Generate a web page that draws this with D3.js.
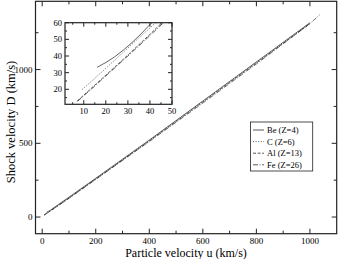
<!DOCTYPE html>
<html>
<head>
<meta charset="utf-8">
<script src="https://cdn.jsdelivr.net/npm/d3@7"></script>
<style>
  body { margin: 0; background: #fff; }
</style>
</head>
<body>
<svg id="chart" width="338" height="259" font-family="'Liberation Serif', 'DejaVu Serif', serif"></svg>
<script>
// materials, as listed in the legend
const labels = ["Be (Z=4)", "C (Z=6)", "Al (Z=13)", "Fe (Z=26)"];
const dashes = [null, "1,1.6", "3,1.6", "5,1.6,1,1.6"];

// particle velocity u (km/s) and shock velocity D (km/s)
const beU = [16, 20, 24, 28, 32, 36, 40.5, 50, 100, 200, 400, 600, 800, 1000];
const beD = [33.2, 36.1, 39.5, 43.6, 48.2, 53.3, 59.6, 71.5, 135, 263, 522, 787, 1052, 1318];
const cU = [9.2, 15, 20, 25, 30, 35, 42.5, 50, 100, 200, 400, 600, 800, 1000];
const cD = [19.8, 26.6, 32.6, 38.7, 44.8, 50.9, 59.8, 69, 131, 260, 519, 784, 1049, 1315];
const alU = [7, 10, 15, 20, 25, 30, 35, 40, 44.8, 50, 100, 200, 400, 600, 800, 1000];
const alD = [13, 16.5, 22.5, 28.5, 34.5, 40.6, 46.8, 53, 59.2, 65.5, 128, 257, 516, 780, 1044, 1310];
const feU = [7.2, 10, 15, 20, 25, 30, 35, 40, 45.6, 50, 100, 200, 400, 600, 800, 1000, 1038];
const feD = [12.8, 16.1, 22, 28, 34, 40, 46.1, 52.3, 59.3, 64.8, 127, 255, 512, 773, 1038, 1312, 1374];

// axis ticks
const xTicks = [0, 200, 400, 600, 800, 1000];
const yTicks = [0, 500, 1000];
const inXTicks = [10, 20, 30, 40, 50];
const inYTicks = [20, 30, 40, 50, 60];

const svg = d3.select("#chart");
const series = [[beU, beD], [cU, cD], [alU, alD], [feU, feD]]
  .map(([u, D]) => u.map((v, i) => ({ u: v, D: D[i] })));

// main frame
const x = d3.scaleLinear().domain([-25, 1100]).range([35.5, 336.7]);
const y = d3.scaleLinear().domain([-113, 1463]).range([233.7, 1.3]);

function frame(g, xs, ys, xMaj, xMin, yMaj, yMin, big, small) {
  const [x0, x1] = xs.range();
  const [y0, y1] = ys.range();
  xMin.forEach(v => {
    const len = xMaj.includes(v) ? big : small;
    g.append("line").attr("x1", xs(v)).attr("x2", xs(v)).attr("y1", y0).attr("y2", y0 - len).attr("stroke", "#222");
    g.append("line").attr("x1", xs(v)).attr("x2", xs(v)).attr("y1", y1).attr("y2", y1 + len).attr("stroke", "#222");
  });
  yMin.forEach(v => {
    const len = yMaj.includes(v) ? big : small;
    g.append("line").attr("y1", ys(v)).attr("y2", ys(v)).attr("x1", x0).attr("x2", x0 + len).attr("stroke", "#222");
    g.append("line").attr("y1", ys(v)).attr("y2", ys(v)).attr("x1", x1).attr("x2", x1 - len).attr("stroke", "#222");
  });
  g.append("rect").attr("x", x0).attr("y", y1).attr("width", x1 - x0).attr("height", y0 - y1)
    .attr("fill", "none").attr("stroke", "#222").attr("stroke-width", 1.2);
}

const line = (xs, ys) => d3.line().x(d => xs(d.u)).y(d => ys(d.D));

const main = svg.append("g");
series.forEach((s, i) => {
  main.append("path").attr("d", line(x, y)(s)).attr("fill", "none")
    .attr("stroke", "#111").attr("stroke-width", 0.6)
    .attr("stroke-dasharray", dashes[i]);
});
frame(main, x, y, xTicks, d3.range(0, 1100, 100), yTicks, d3.range(0, 1500, 250), 5, 3);

main.selectAll(".xl").data(xTicks).enter().append("text")
  .attr("x", d => x(d)).attr("y", 244).attr("text-anchor", "middle")
  .style("font-size", "9px").text(d => d);
main.selectAll(".yl").data(yTicks).enter().append("text")
  .attr("x", 32.5).attr("y", d => y(d) + 3).attr("text-anchor", "end")
  .style("font-size", "9px").text(d => d);

svg.append("text").attr("x", 186).attr("y", 256.5).attr("text-anchor", "middle")
  .style("font-size", "12px").text("Particle velocity u (km/s)");
svg.append("text").attr("transform", "translate(15,122) rotate(-90)").attr("text-anchor", "middle")
  .style("font-size", "12.5px").text("Shock velocity D (km/s)");

// inset
const ix = d3.scaleLinear().domain([1.5, 50]).range([65, 172]);
const iy = d3.scaleLinear().domain([11, 60]).range([104.3, 22.7]);
const inset = svg.append("g");
inset.append("rect").attr("x", 65).attr("y", 22.7).attr("width", 107).attr("height", 81.6).attr("fill", "#fff");
svg.append("clipPath").attr("id", "clip").append("rect")
  .attr("x", 65).attr("y", 22.7).attr("width", 107).attr("height", 81.6);
series.forEach((s, i) => {
  inset.append("path").attr("d", line(ix, iy)(s)).attr("fill", "none")
    .attr("clip-path", "url(#clip)")
    .attr("stroke", "#111").attr("stroke-width", 0.65)
    .attr("stroke-dasharray", dashes[i]);
});
frame(inset, ix, iy, inXTicks, d3.range(5, 51, 5), inYTicks, d3.range(15, 61, 5), 4, 2);
inset.selectAll(".ixl").data(inXTicks).enter().append("text")
  .attr("x", d => ix(d)).attr("y", 114).attr("text-anchor", "middle")
  .style("font-size", "8.5px").text(d => d);
inset.selectAll(".iyl").data(inYTicks).enter().append("text")
  .attr("x", 62).attr("y", d => iy(d) + 3).attr("text-anchor", "end")
  .style("font-size", "8.5px").text(d => d);

// legend
const leg = svg.append("g");
leg.append("rect").attr("x", 250.5).attr("y", 122).attr("width", 62.2).attr("height", 49)
  .attr("fill", "#fff").attr("stroke", "#222").attr("stroke-width", 0.8);
labels.forEach((t, i) => {
  const ly = 130 + i * 11.6;
  leg.append("line").attr("x1", 253).attr("x2", 264).attr("y1", ly).attr("y2", ly)
    .attr("stroke", "#111").attr("stroke-width", 0.7).attr("stroke-dasharray", dashes[i]);
  leg.append("text").attr("x", 267).attr("y", ly + 3).style("font-size", "8.5px").text(t);
});
</script>
</body>
</html>
